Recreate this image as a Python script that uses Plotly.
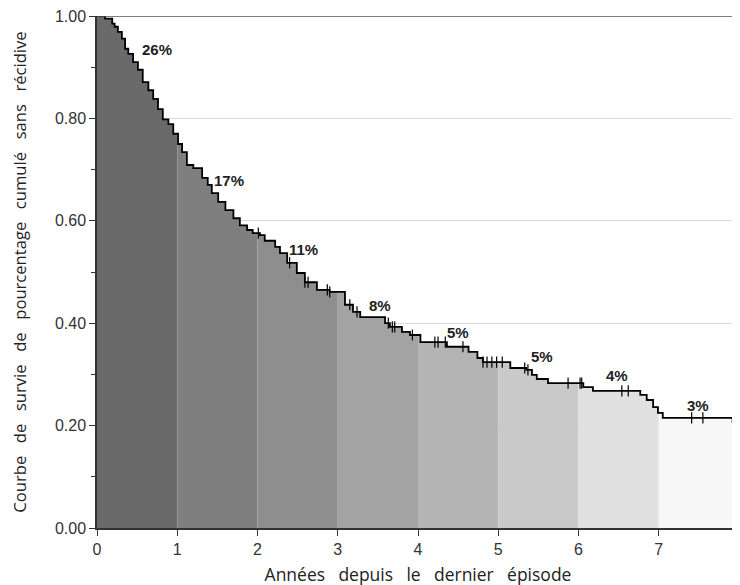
import plotly.graph_objects as go
import bisect

# Kaplan-Meier step curve: event times (years) and survival after each drop
event_times = [0.00, 0.10, 0.19, 0.22, 0.26, 0.31, 0.35, 0.39, 0.45, 0.51, 0.57, 0.64,
               0.70, 0.76, 0.82, 0.89, 0.95, 1.01, 1.06, 1.12, 1.20, 1.31, 1.38, 1.43,
               1.51, 1.60, 1.70, 1.78, 1.87, 1.94, 2.03, 2.09, 2.22, 2.28, 2.37, 2.49,
               2.59, 2.74, 2.90, 3.09, 3.19, 3.28, 3.59, 3.65, 3.80, 3.90, 4.03, 4.36,
               4.63, 4.74, 4.81, 5.15, 5.35, 5.42, 5.48, 5.62, 6.06, 6.18, 6.77, 6.85,
               6.93, 6.99, 7.05, 7.92]
survival = [1.000, 0.995, 0.985, 0.979, 0.969, 0.956, 0.936, 0.926, 0.910, 0.895, 0.871, 0.855,
            0.838, 0.818, 0.798, 0.789, 0.770, 0.750, 0.734, 0.709, 0.703, 0.684, 0.670, 0.654,
            0.637, 0.621, 0.605, 0.591, 0.582, 0.576, 0.572, 0.561, 0.549, 0.537, 0.518, 0.498,
            0.480, 0.465, 0.461, 0.436, 0.422, 0.412, 0.400, 0.393, 0.383, 0.377, 0.363, 0.354,
            0.344, 0.332, 0.324, 0.3125, 0.309, 0.299, 0.291, 0.283, 0.275, 0.268, 0.260, 0.250,
            0.236, 0.225, 0.215, 0.207]
end_time = 8.0

# Censored observations (years)
censor_times = [2.01, 2.40, 2.59, 2.63, 2.87, 2.90, 3.15, 3.24, 3.63, 3.68, 3.71, 3.93,
                4.21, 4.25, 4.34, 4.56, 4.81, 4.86, 4.92, 4.98, 5.05, 5.33, 5.37, 5.87,
                6.02, 6.04, 6.54, 6.62, 7.41, 7.55]

# Year bands and their grey levels
band_starts = [0, 1, 2, 3, 4, 5, 6, 7]
band_colors = ["#6a6a6a", "#7f7f7f", "#8e8e8e", "#a3a3a3",
               "#b4b4b4", "#c9c9c9", "#e0e0e0", "#f7f7f7"]

# Annual recurrence labels
label_texts = ["26%", "17%", "11%", "8%", "5%", "5%", "4%", "3%"]
label_x = [0.75, 1.64, 2.57, 3.53, 4.50, 5.55, 6.48, 7.49]
label_y = [0.934, 0.678, 0.543, 0.434, 0.381, 0.334, 0.297, 0.240]

y_ticks = [0.0, 0.2, 0.4, 0.6, 0.8, 1.0]
x_ticks = [0, 1, 2, 3, 4, 5, 6, 7, 8]

x_title = "Années depuis le dernier épisode"
y_title = "Courbe de survie de pourcentage cumulé sans récidive"


def surv_at(t, strict=False):
    if strict:
        i = bisect.bisect_left(event_times, t) - 1
    else:
        i = bisect.bisect_right(event_times, t) - 1
    return survival[max(i, 0)]


def wide(s):
    return s.replace(" ", " \u2002")


fig = go.Figure()

# shaded bands under the curve
for a, col in zip(band_starts, band_colors):
    b = a + 1
    xs = [a]
    ys = [surv_at(a)]
    for t, s in zip(event_times, survival):
        if a < t < b:
            xs.append(t)
            ys.append(s)
    xs.append(b)
    ys.append(surv_at(b, strict=True))
    fig.add_trace(go.Scatter(x=xs, y=ys, mode="lines", line=dict(width=0, shape="hv"),
                             fill="tozeroy", fillcolor=col, hoverinfo="skip",
                             showlegend=False))

# the survival curve
fig.add_trace(go.Scatter(x=event_times + [end_time], y=survival + [survival[-1]],
                         mode="lines", line=dict(color="black", width=1.8, shape="hv"),
                         showlegend=False))

# censor ticks
fig.add_trace(go.Scatter(x=censor_times, y=[surv_at(t) for t in censor_times],
                         mode="markers",
                         marker=dict(symbol="line-ns", size=8,
                                     line=dict(color="black", width=1.2)),
                         showlegend=False))

for txt, lx, ly in zip(label_texts, label_x, label_y):
    fig.add_annotation(x=lx, y=ly, text="<b>" + txt + "</b>", showarrow=False,
                       font=dict(family="Liberation Sans, Arial", size=15, color="#222"))

# top frame line
fig.add_shape(type="line", xref="paper", yref="y", x0=0, x1=1, y0=1, y1=1,
              line=dict(color="#555555", width=1.5))

fig.update_layout(
    width=740, height=585,
    margin=dict(l=89, r=9, t=8, b=65),
    plot_bgcolor="white", paper_bgcolor="white",
    font=dict(family="Liberation Sans, Arial", color="#333"),
)
fig.update_xaxes(range=[0, 8], tickvals=x_ticks, ticks="outside", ticklen=6,
                 tickcolor="#333", showline=True, linecolor="#333", linewidth=1.5,
                 showgrid=False, zeroline=False, tickfont=dict(size=16, color="#333"),
                 automargin=False, ticklabeloverflow="allow",
                 title=dict(text=wide(x_title), standoff=12,
                            font=dict(family="Open Sans", size=17.5, color="#222")))
fig.update_yaxes(range=[0, 1], tickvals=y_ticks, tickformat=".2f", ticks="outside",
                 ticklen=6, tickcolor="#333", showline=True, linecolor="#333",
                 linewidth=1.5, showgrid=True, gridcolor="#d9d9d9", gridwidth=1,
                 zeroline=False, tickfont=dict(size=16, color="#333"),
                 automargin=False, ticklabeloverflow="allow",
                 minor=dict(dtick=0.1, ticks="outside", ticklen=4, tickcolor="#333",
                            showgrid=False),
                 title=dict(text=wide(y_title), standoff=27,
                            font=dict(family="Open Sans", size=16.6, color="#222")))

fig.write_html("out.html")
